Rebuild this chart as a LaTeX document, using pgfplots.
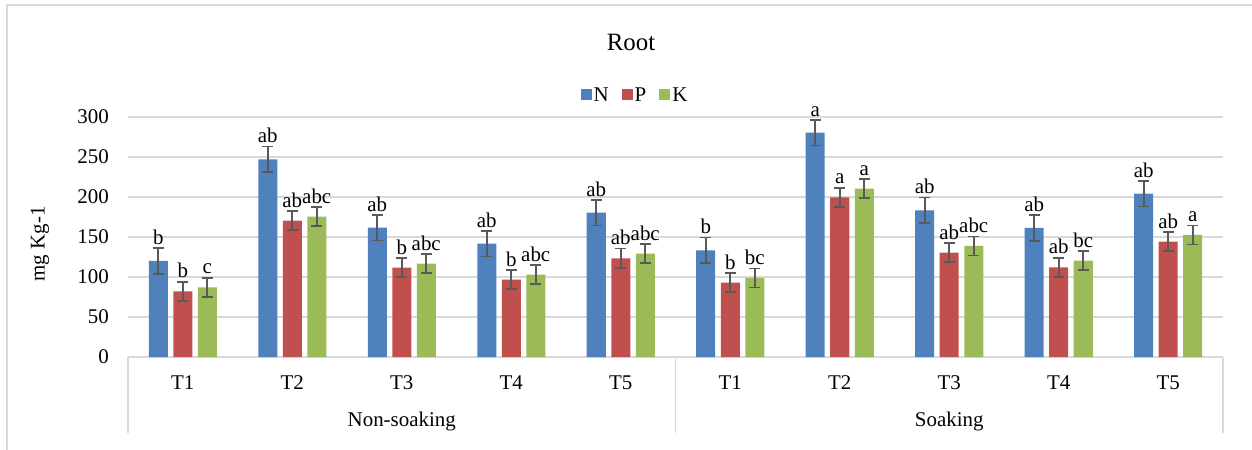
\documentclass[border=0pt]{standalone}
\usepackage{fontspec}
\setmainfont{Liberation Serif}
\usepackage{pgfplots}
\usepackage{pgfplotstable}
\pgfplotsset{compat=1.18}
\definecolor{cN}{HTML}{4F81BD}
\definecolor{cP}{HTML}{C0504D}
\definecolor{cK}{HTML}{9BBB59}
\definecolor{gridc}{HTML}{D9D9D9}
\definecolor{errc}{HTML}{595959}
\pgfplotstableread{
x N Ne Nl P Pe Pl K Ke Kl
0 120 16 b 82 12 b 87 12 c
1 247 16 ab 170.5 12 ab 175.5 12 abc
2 161.7 16 ab 111.7 12 b 116.7 12 abc
3 141.7 16 ab 96.7 12 b 103 12 abc
4 180.5 16 ab 123.4 12 ab 129.2 12 abc
5 133.4 16 b 93 12 b 98.8 12 bc
6 280.5 16 a 199.6 12 a 210.5 12 a
7 183.4 16 ab 130.5 12 ab 138.8 12 abc
8 161.3 16 ab 112 12 ab 120.5 12 bc
9 204.2 16 ab 144.2 12 ab 152.5 12 a
}\data
\newcommand{\fs}{\fontsize{21}{25}\selectfont}
\begin{document}
\begin{tikzpicture}
\path[use as bounding box] (0,0) rectangle (1252bp,450bp);
\draw[gridc, line width=1.5bp] (7bp,0) -- (7bp,445bp) -- (1260bp,445bp);
\begin{axis}[
  at={(128bp,93bp)}, anchor=south west,
  scale only axis, width=1095bp, height=240bp,
  ybar=5.5bp, bar width=19bp,
  xmin=-0.5, xmax=9.5, ymin=0, ymax=300,
  enlargelimits=false, clip=false,
  ytick={0,50,...,300},
  xtick={0,...,9},
  xticklabels={T1,T2,T3,T4,T5,T1,T2,T3,T4,T5},
  major tick length=0pt,
  tick style={draw=none},
  axis x line*=bottom, axis y line*=left,
  x axis line style={gridc, line width=1.5bp, -},
  y axis line style={draw=none},
  ymajorgrids, major grid style={gridc, line width=1.5bp},
  /pgf/number format/assume math mode=true,
  ticklabel style={font=\fs},
  yticklabel style={inner sep=0pt, anchor=east, xshift=-19bp},
  xticklabel style={inner sep=0pt, anchor=base, yshift=-32bp},
  legend style={draw=none, fill=none, font=\fs, at={(0.463,1.0917)}, anchor=center,
    legend columns=3, /tikz/every even column/.append style={column sep=11bp}},
  legend image code/.code={\fill[#1] (0bp,-5.5bp) rectangle (11bp,5.5bp);},
  error bars/y dir=both, error bars/y explicit,
  error bars/error bar style={errc, line width=1.6bp},
  error bars/error mark options={errc, rotate=90, mark size=5.5bp, line width=1.6bp},
  nodes near coords, point meta=explicit symbolic,
  every node near coord/.append style={font=\fs, anchor=south, inner sep=0.5bp},
]
\addplot[fill=cN, draw=none, nodes near coords style={yshift=15.5bp}]
  table[x=x, y=N, y error=Ne, meta=Nl] {\data};
\addplot[fill=cP, draw=none, nodes near coords style={yshift=12.5bp}]
  table[x=x, y=P, y error=Pe, meta=Pl] {\data};
\addplot[fill=cK, draw=none, nodes near coords style={yshift=12.5bp}]
  table[x=x, y=K, y error=Ke, meta=Kl] {\data};
\legend{N,P,K}
\draw[gridc, line width=1.5bp] (axis cs:-0.5,0) -- ([yshift=-76bp]axis cs:-0.5,0);
\draw[gridc, line width=1.5bp] (axis cs:4.5,0) -- ([yshift=-76bp]axis cs:4.5,0);
\draw[gridc, line width=1.5bp] (axis cs:9.5,0) -- ([yshift=-76bp]axis cs:9.5,0);
\node[font=\fs, anchor=base, inner sep=0pt] at ([yshift=-69bp]axis cs:2,0) {Non-soaking};
\node[font=\fs, anchor=base, inner sep=0pt] at ([yshift=-69bp]axis cs:7,0) {Soaking};
\end{axis}
\node[font=\fontsize{25}{29}\selectfont] at (631bp,408bp) {Root};
\node[font=\fs, rotate=90] at (40bp,206bp) {mg Kg-1};
\end{tikzpicture}
\end{document}
